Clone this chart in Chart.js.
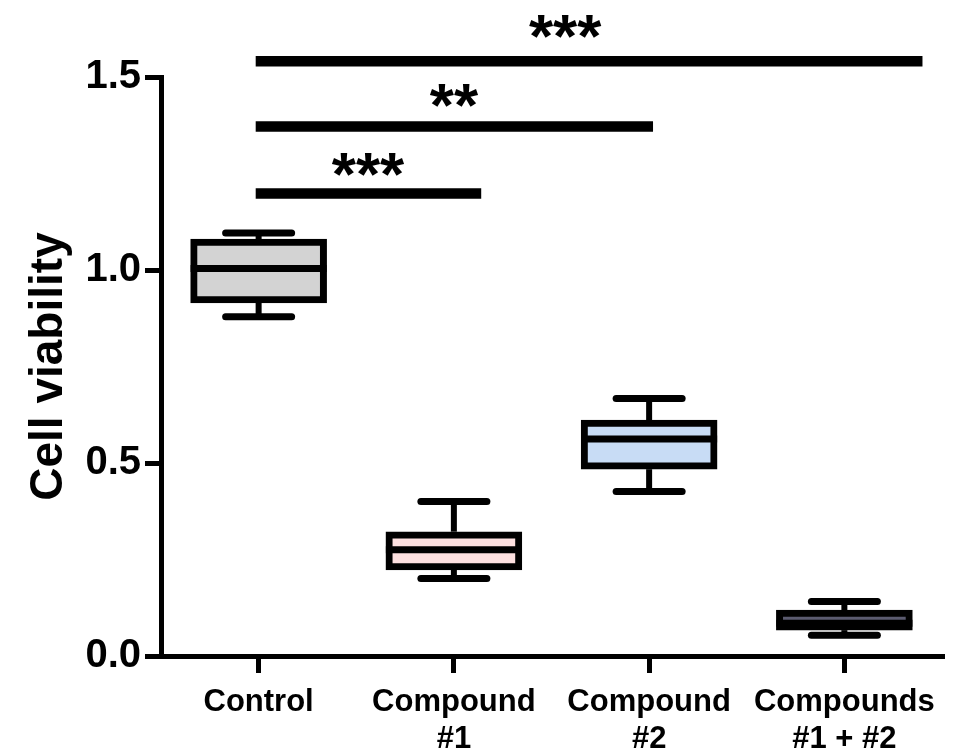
<!DOCTYPE html>
<html>
<head>
<meta charset="utf-8">
<title>Cell viability</title>
<script src="https://cdn.jsdelivr.net/npm/chart.js@4.4.1/dist/chart.umd.min.js"></script>
<style>
    html, body { margin: 0; padding: 0; background: #fff; }
</style>
</head>
<body>
<canvas id="boxChart" width="966" height="756"></canvas>
<script>
// ================= DATA =================
const categories = ["Control", ["Compound", "#1"], ["Compound", "#2"], ["Compounds", "#1 + #2"]];

const whiskerMin = [0.879, 0.201, 0.426, 0.054];
const q1         = [0.915, 0.223, 0.484, 0.067];
const median     = [1.004, 0.275, 0.562, 0.085];
const q3         = [1.080, 0.322, 0.611, 0.119];
const whiskerMax = [1.096, 0.400, 0.667, 0.141];

const boxColors = ["#d3d3d3", "#fde0e0", "#c8dcf5", "#5b5b70"];

const yTicks = [0, 0.5, 1.0, 1.5];

// significance bars (x in category units, y in data units)
const sigFrom  = [-0.015, -0.015, -0.015];
const sigTo    = [1.14, 2.02, 3.40];
const sigLevel = [1.198, 1.372, 1.541];
const sigStarX = [0.56, 1.0, 1.57];
const sigStarY = [1.272, 1.451, 1.630];
const sigLabel = ["***", "**", "***"];

const sansBold = "'Liberation Sans', Arial, sans-serif";

// ================= BOX PLOT EXTRAS =================
function strokeLine(ctx, x1, y1, x2, y2) {
    ctx.beginPath();
    ctx.moveTo(x1, y1);
    ctx.lineTo(x2, y2);
    ctx.stroke();
}

const boxExtras = {
    id: "boxExtras",
    beforeDatasetsDraw(chart) {
        let ctx = chart.ctx;
        let x = chart.scales.x;
        let y = chart.scales.y;
        ctx.save();
        ctx.strokeStyle = "#000";
        for (let i = 0; i < categories.length; i++) {
            let cx = x.getPixelForValue(i);
            // stems
            ctx.lineWidth = 6;
            ctx.lineCap = "butt";
            strokeLine(ctx, cx, y.getPixelForValue(whiskerMax[i]), cx, y.getPixelForValue(q3[i]));
            strokeLine(ctx, cx, y.getPixelForValue(q1[i]), cx, y.getPixelForValue(whiskerMin[i]));
            // caps
            ctx.lineWidth = 7;
            ctx.lineCap = "round";
            let yMax = y.getPixelForValue(whiskerMax[i]);
            let yMin = y.getPixelForValue(whiskerMin[i]);
            strokeLine(ctx, cx - 33, yMax, cx + 33, yMax);
            strokeLine(ctx, cx - 33, yMin, cx + 33, yMin);
        }
        ctx.restore();
    },
    afterDatasetsDraw(chart) {
        let ctx = chart.ctx;
        let x = chart.scales.x;
        let y = chart.scales.y;
        let bars = chart.getDatasetMeta(0).data;
        ctx.save();
        ctx.strokeStyle = "#000";
        ctx.lineWidth = 7;
        ctx.lineCap = "butt";
        for (let i = 0; i < categories.length; i++) {
            let cx = x.getPixelForValue(i);
            let half = bars[i].width / 2;
            let my = y.getPixelForValue(median[i]);
            strokeLine(ctx, cx - half, my, cx + half, my);
        }
        ctx.restore();
    },
    afterDraw(chart) {
        let ctx = chart.ctx;
        let x = chart.scales.x;
        let y = chart.scales.y;
        ctx.save();
        ctx.strokeStyle = "#000";
        ctx.fillStyle = "#000";
        ctx.lineWidth = 10.5;
        ctx.lineCap = "butt";
        ctx.font = "bold 62px " + sansBold;
        ctx.textAlign = "center";
        ctx.textBaseline = "alphabetic";
        for (let i = 0; i < sigLabel.length; i++) {
            let ly = y.getPixelForValue(sigLevel[i]);
            strokeLine(ctx, x.getPixelForValue(sigFrom[i]), ly, x.getPixelForValue(sigTo[i]), ly);
            // asterisks sit high in the em box, push baseline down
            ctx.fillText(sigLabel[i], x.getPixelForValue(sigStarX[i]), y.getPixelForValue(sigStarY[i]) + 0.48 * 62);
        }
        ctx.restore();
    }
};

// ================= CHART =================
new Chart(document.getElementById("boxChart"), {
    type: "bar",
    data: {
        labels: categories,
        datasets: [{
            data: q1.map((v, i) => [v, q3[i]]),
            backgroundColor: boxColors,
            borderColor: "#000",
            borderWidth: 7,
            borderSkipped: false,
            barThickness: 136
        }]
    },
    options: {
        responsive: false,
        animation: false,
        layout: { padding: { top: 77, right: 24, bottom: 0, left: 0 } },
        plugins: {
            legend: { display: false },
            tooltip: { enabled: false }
        },
        scales: {
            x: {
                offset: true,
                grid: { offset: false, drawOnChartArea: false, color: "#000", lineWidth: 5, tickLength: 17 },
                border: { color: "#000", width: 5 },
                ticks: { color: "#000", padding: 11, font: { family: sansBold, size: 31, weight: "bold" } },
                afterFit: (s) => { s.height = 100; }
            },
            y: {
                min: 0,
                max: 1.5,
                afterBuildTicks: (s) => { s.ticks = yTicks.map(v => ({ value: v })); },
                grid: { drawOnChartArea: false, color: "#000", lineWidth: 5, tickLength: 16 },
                border: { color: "#000", width: 5 },
                ticks: {
                    color: "#000",
                    padding: 4,
                    font: { family: sansBold, size: 40, weight: "bold" },
                    callback: (v) => Number(v).toFixed(1)
                },
                title: {
                    display: true,
                    text: "Cell viability",
                    color: "#000",
                    font: { family: sansBold, size: 46, weight: "bold" },
                    padding: { top: 22, bottom: 0 }
                },
                afterFit: (s) => { s.width = 161; }
            }
        }
    },
    plugins: [boxExtras]
});
</script>
</body>
</html>
